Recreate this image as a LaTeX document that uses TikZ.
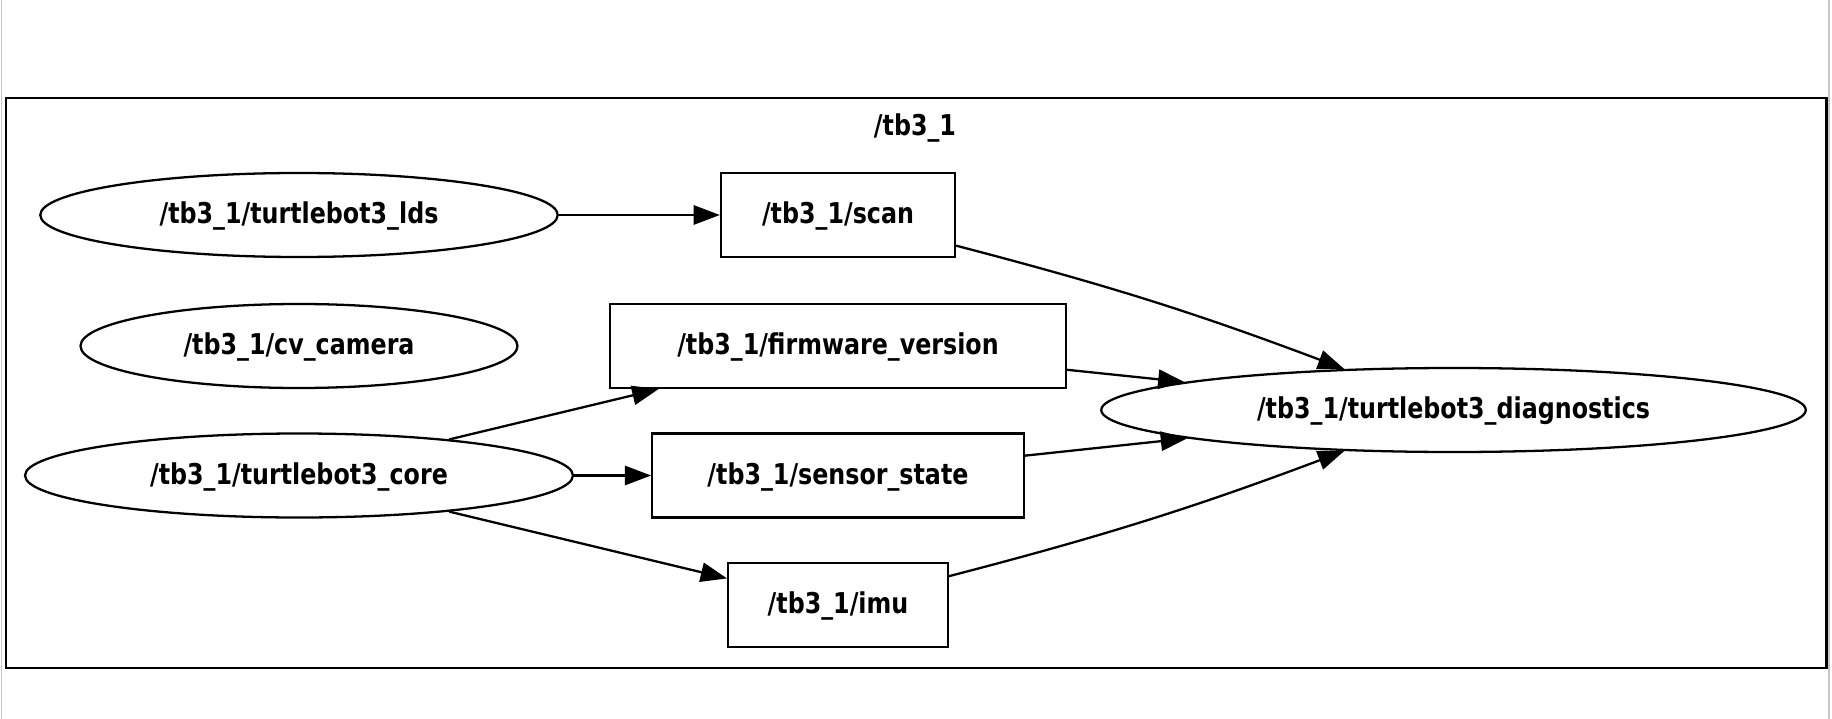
\documentclass[tikz,border=0pt]{standalone}
\usepackage{fontspec}
\newfontfamily\graphfont{DejaVu Sans}[FakeStretch=0.83]
\usetikzlibrary{shapes.geometric, arrows.meta}
\tikzset{
	graphtext/.style={font=\graphfont\bfseries\fontsize{16.3}{19}\selectfont, text height=1em, text depth=0pt}
}
\tikzset{
	rosnode/.style={graphtext, draw, ellipse, inner sep=0pt, minimum height=1.68cm},
	topicbox/.style={graphtext, draw, rectangle, inner sep=0pt, minimum height=1.68cm},
	edgeframe/.style={line width=0.8pt, color=black!22}
}
\newcommand{\tbns}[1]{/tb3\_1/#1}

\begin{document}
\begin{tikzpicture}[>={Triangle[length=15pt,width=11pt]}, line width=1.3pt]
      \useasboundingbox (0,0) rectangle (36.64,-14.38);
      \draw[edgeframe] (0.03,0) -- (0.03,-14.38);
      \draw[edgeframe] (36.58,0) -- (36.58,-14.38);
      % cluster
      \draw[line width=1.4pt] (0.12,-1.96) rectangle (36.53,-13.36);
      \node[graphtext] (ns) at (18.3,-2.54) {/tb3\_1};
      % nodes
      \node[rosnode, minimum width=10.35cm] (lds)  at (5.98,-4.30) {\tbns{turtlebot3\_lds}};
      \node[rosnode, minimum width=8.74cm]  (cam)  at (5.98,-6.92) {\tbns{cv\_camera}};
      \node[rosnode, minimum width=10.96cm] (core) at (5.98,-9.51) {\tbns{turtlebot3\_core}};
      \node[rosnode, minimum width=14.09cm] (diag) at (29.07,-8.20) {\tbns{turtlebot3\_diagnostics}};
      % topics
      \node[topicbox, minimum width=4.68cm] (scan)   at (16.76,-4.30)  {\tbns{scan}};
      \node[topicbox, minimum width=9.12cm] (fw)     at (16.76,-6.92)  {\tbns{firmware\_version}};
      \node[topicbox, minimum width=7.43cm] (sensor) at (16.76,-9.51)  {\tbns{sensor\_state}};
      \node[topicbox, minimum width=4.39cm] (imu)    at (16.76,-12.10) {\tbns{imu}};
      % edges
      \draw[->] (lds) -- (scan);
      \draw[->] (core) -- (fw);
      \draw[->] (core) -- (sensor);
      \draw[->] (core) -- (imu);
      \draw[->] (scan) to[bend left=3] (diag);
      \draw[->] (fw) -- (diag);
      \draw[->] (sensor) -- (diag);
      \draw[->] (imu) to[bend right=3] (diag);
    \end{tikzpicture}
\end{document}
